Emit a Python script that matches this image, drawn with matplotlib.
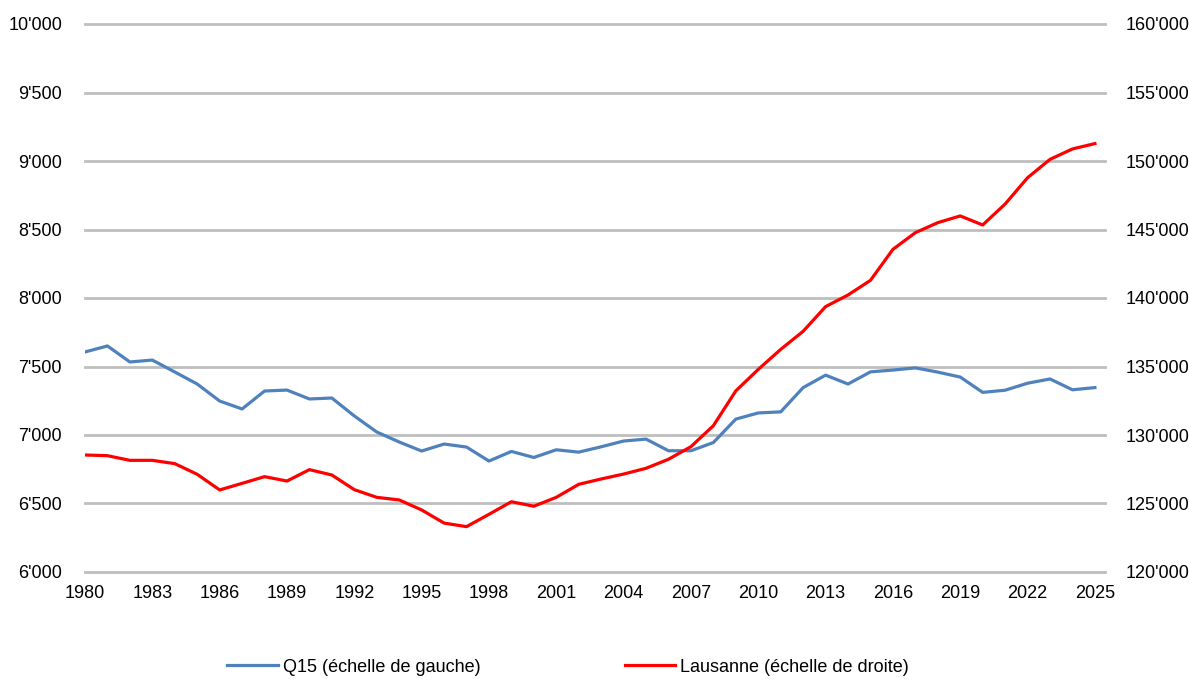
import matplotlib
matplotlib.use("Agg")
import matplotlib.pyplot as plt
from matplotlib.ticker import FuncFormatter

years = list(range(1980, 2026))
q15 = [7606, 7650, 7533, 7547, 7460, 7372, 7248, 7190, 7321, 7328,
       7263, 7270, 7139, 7022, 6949, 6883, 6934, 6912, 6810, 6880,
       6836, 6892, 6875, 6914, 6956, 6970, 6885, 6885, 6945, 7116,
       7161, 7169, 7346, 7437, 7372, 7461, 7474, 7490, 7459, 7423,
       7311, 7327, 7378, 7409, 7330, 7346]
lausanne = [128540, 128490, 128150, 128150, 127910, 127130, 125990, 126470, 126960, 126640,
            127470, 127080, 126010, 125450, 125260, 124530, 123570, 123310, 124210, 125130,
            124800, 125450, 126400, 126790, 127150, 127570, 128230, 129150, 130680, 133220,
            134790, 136250, 137570, 139370, 140220, 141290, 143550, 144770, 145500, 145990,
            145330, 146860, 148780, 150120, 150880, 151270]
left_ticks = list(range(6000, 10001, 500))
right_ticks = list(range(120000, 160001, 5000))
x_ticks = list(range(1980, 2026, 3))
label_q15 = "Q15 (échelle de gauche)"
label_laus = "Lausanne (échelle de droite)"

plt.rcParams['font.family'] = ['Liberation Sans', 'DejaVu Sans']
fs = 13

def apos(v, pos=None):
    return f"{int(round(v)):,}".replace(",", "'")

fig = plt.figure(figsize=(11.89, 6.79), dpi=100)
ax = fig.add_axes([85/1189, 1-572/679, (1105-85)/1189, (572-24)/679])
ax2 = ax.twinx()

grid_c = "#BEBEBE"
for t in left_ticks:
    ax.axhline(t, color=grid_c, lw=2.0, zorder=0, clip_on=False)

l1, = ax.plot(years, q15, color="#4F81BD", lw=2.3, label=label_q15, zorder=3)
l2, = ax2.plot(years, lausanne, color="#FF0000", lw=2.3, label=label_laus, zorder=3)

ax.set_xlim(1980, 2025.45)
ax.set_ylim(6000, 10000)
ax2.set_ylim(120000, 160000)
ax.set_yticks(left_ticks)
ax2.set_yticks(right_ticks)
ax.set_xticks(x_ticks)
ax.yaxis.set_major_formatter(FuncFormatter(apos))
ax2.yaxis.set_major_formatter(FuncFormatter(apos))

for a in (ax, ax2):
    for s in a.spines.values():
        s.set_visible(False)
ax.tick_params(axis='y', length=0, pad=16.5, labelsize=fs)
ax2.tick_params(axis='y', length=0, pad=15, labelsize=fs)
ax.tick_params(axis='x', length=0, pad=9.5, labelsize=fs)

fig.legend(handles=[l1, l2], loc='center left', bbox_to_anchor=(227/1189, 1-667/679),
           ncol=2, frameon=False, fontsize=fs, handlelength=2.8, handletextpad=0.28,
           columnspacing=8.0, borderaxespad=0, borderpad=0)

fig.savefig("out.png", dpi=100)
